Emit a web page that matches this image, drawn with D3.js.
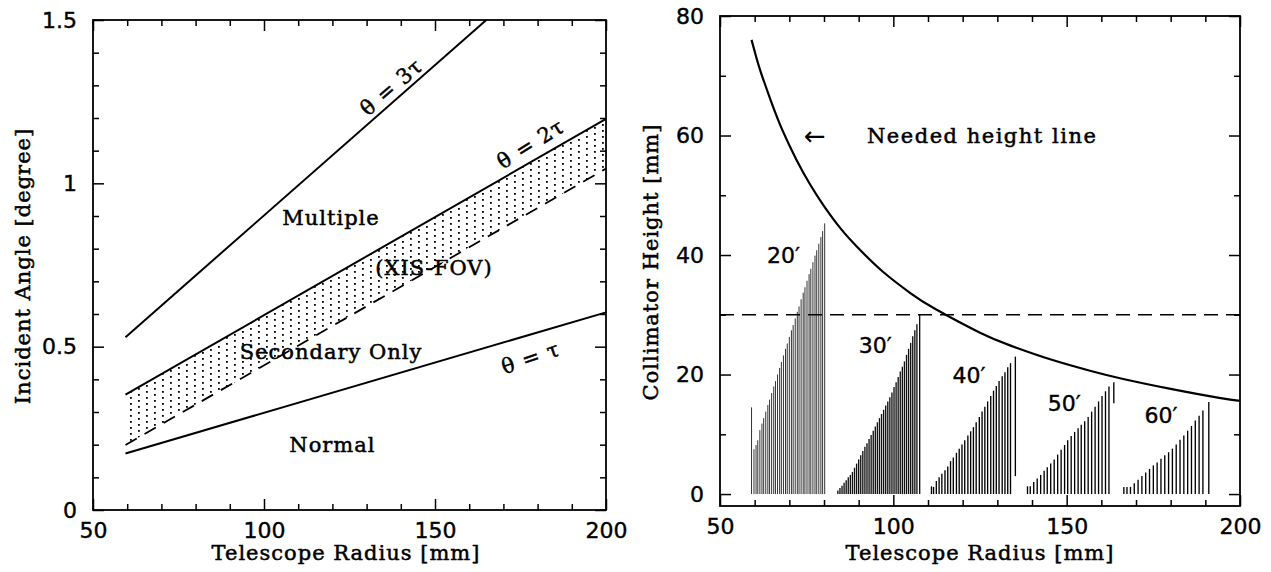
<!DOCTYPE html>
<html><head><meta charset="utf-8">
<script src="https://cdn.jsdelivr.net/npm/d3@7"></script>
<style>body{margin:0;background:#fff} svg{display:block}</style>
</head><body>
<svg id="chart" width="1271" height="572"></svg>
<script>
// ---------- data ----------
const radiusTicks = [50, 100, 150, 200];
const radiusMinor = [60, 70, 80, 90, 110, 120, 130, 140, 160, 170, 180, 190];
const angleTicks = [0, 0.5, 1, 1.5];
const angleTickLabels = ["0", "0.5", "1", "1.5"];
const angleMinor = [0.1, 0.2, 0.3, 0.4, 0.6, 0.7, 0.8, 0.9, 1.1, 1.2, 1.3, 1.4];
const heightTicks = [0, 20, 40, 60, 80];
const heightMinor = [10, 30, 50, 70];

// left panel lines (radius endpoints, angle values)
const lineRadius = [59.5, 200];
const thetaTau = [0.173, 0.605];
const theta2Tau = [0.353, 1.197];
const theta3TauRadius = [59.5, 165];
const theta3Tau = [0.529, 1.5];
const xisFovEdge = [0.199, 1.045];

// right panel: needed height line
const neededRadius = [59.1, 60.5, 62, 65, 68, 72, 76, 80, 85, 90, 97, 105, 112, 125, 134, 145, 157, 166, 180, 194, 200];
const neededHeight = [76, 73.0, 70.2, 65.3, 60.9, 56.0, 51.8, 48.2, 44.3, 41.1, 37.2, 33.6, 31.0, 27.0, 24.8, 22.6, 20.6, 19.3, 17.6, 16.1, 15.6];
const heightLimit = 30;

// collimator foils: radius positions and top heights
const foil20R = [59.1, 59.8, 60.4, 60.9, 61.5, 62.1, 62.6, 63.2, 63.8, 64.3, 64.9, 65.5, 66.0, 66.6, 67.2, 67.7, 68.3, 68.9, 69.4, 70.0, 70.6, 71.1, 71.7, 72.3, 72.8, 73.4, 74.0, 74.5, 75.1, 75.7, 76.2, 76.8, 77.4, 77.9, 78.5, 79.1, 79.6, 80.2];
const foil20H = [14.5, 7.5, 8.2, 9.0, 10.7, 11.8, 12.7, 13.8, 14.9, 15.8, 16.9, 18.0, 18.9, 20.0, 21.1, 22.1, 23.2, 24.3, 25.2, 26.3, 27.4, 28.3, 29.4, 30.5, 31.4, 32.6, 33.7, 34.6, 35.7, 36.8, 37.7, 38.8, 39.9, 40.8, 41.9, 43.0, 44.0, 45.3];
const foil30R = [84.0, 84.6, 85.2, 85.8, 86.4, 87.0, 87.6, 88.2, 88.8, 89.4, 90.0, 90.6, 91.2, 91.8, 92.4, 93.0, 93.6, 94.2, 94.8, 95.4, 96.0, 96.6, 97.2, 97.8, 98.4, 99.0, 99.6, 100.2, 100.8, 101.4, 102.0, 102.6, 103.2, 103.8, 104.4, 105.0, 105.6, 106.2, 106.8, 107.6];
const foil30H = [0.6, 1.0, 1.4, 1.9, 2.3, 2.8, 3.2, 3.7, 4.4, 5.1, 5.8, 6.5, 7.2, 7.9, 8.5, 9.2, 9.9, 10.6, 11.3, 12.0, 12.7, 13.4, 14.1, 14.8, 15.5, 16.2, 17.0, 17.9, 18.7, 19.6, 20.5, 21.3, 22.2, 23.3, 24.3, 25.3, 26.4, 27.4, 28.4, 30.0];
const foil40R = [111.0, 111.6, 112.4, 113.2, 114.0, 114.9, 115.7, 116.5, 117.3, 118.2, 119.0, 119.8, 120.6, 121.5, 122.3, 123.1, 123.9, 124.8, 125.6, 126.4, 127.2, 128.1, 128.9, 129.7, 130.5, 131.4, 132.2, 133.0, 133.8];
const foil40H = [1.3, 1.2, 2.2, 2.8, 3.4, 4.0, 4.6, 5.5, 6.1, 6.9, 7.6, 8.3, 9.0, 9.8, 10.5, 11.2, 12.0, 12.9, 13.8, 14.6, 15.5, 16.4, 17.3, 18.1, 18.9, 19.7, 20.4, 21.2, 21.9];
const foil50R = [138.7, 139.5, 140.5, 141.5, 142.5, 143.5, 144.4, 145.4, 146.4, 147.4, 148.4, 149.4, 150.3, 151.3, 152.3, 153.3, 154.2, 155.2, 156.2, 157.2, 158.2, 159.2, 160.2, 161.2, 162.2];
const foil50H = [1.3, 1.3, 2.0, 2.6, 3.2, 3.9, 4.5, 5.1, 5.8, 6.6, 7.4, 8.2, 9.0, 9.7, 10.4, 11.0, 11.6, 12.2, 12.9, 13.8, 14.6, 15.5, 16.4, 17.2, 18.0];
const foil60R = [166.5, 167.4, 168.4, 169.5, 170.6, 171.7, 172.8, 173.9, 175.0, 176.1, 177.2, 178.3, 179.4, 180.5, 181.6, 182.7, 183.8, 184.9, 186.0, 187.1, 188.2, 189.3, 191.0];
const foil60H = [1.2, 1.2, 1.2, 1.8, 2.4, 3.0, 3.6, 4.2, 4.8, 5.3, 5.9, 6.5, 7.0, 7.6, 8.3, 9.1, 9.8, 10.6, 11.4, 12.3, 13.1, 14.0, 15.4];
// floating foil segments: radius, bottom, top
const floatR = [135.2, 163.6];
const floatBottom = [3.0, 15.2];
const floatTop = [23.0, 18.7];

const foilLabels = ["20\u2032", "30\u2032", "40\u2032", "50\u2032", "60\u2032"];
const foilLabelR = [68.3, 94.8, 121.8, 149.3, 177.2];
const foilLabelH = [40, 24.9, 19.9, 15.2, 13.2];

// ---------- drawing ----------
const svg = d3.select("#chart");
const SERIF = "DejaVu Serif";
const SANS = "DejaVu Sans";

const xL = d3.scaleLinear().domain([50, 200]).range([93, 606]);
const yL = d3.scaleLinear().domain([0, 1.5]).range([510, 20]);
const xR = d3.scaleLinear().domain([50, 200]).range([720, 1240]);
const yR = d3.scaleLinear().domain([-2, 80]).range([506, 16]);

const defs = svg.append("defs");
const pat = defs.append("pattern").attr("id", "dots").attr("patternUnits", "userSpaceOnUse")
  .attr("width", 16).attr("height", 12);
[[2, 1], [2, 7], [10, 4], [10, 10]].forEach(([a, b]) =>
  pat.append("rect").attr("x", a).attr("y", b).attr("width", 1.8).attr("height", 1.8).attr("fill", "#000"));

function frame(xs, ys, yMajor, yMinor, yFmt) {
  const [xa, xb] = xs.range();
  const [ya, yb] = ys.range();
  const mk = (axis, tx, ty, size, vals, fmt, pad) => {
    const a = axis.tickValues(vals).tickSize(-size).tickPadding(pad || 3).tickFormat(fmt);
    const g = svg.append("g").attr("transform", `translate(${tx},${ty})`).call(a);
    g.select(".domain").remove();
    g.selectAll("line").attr("stroke", "#000").attr("stroke-width", 1.5);
    g.attr("font-family", SANS).attr("font-size", 22);
    g.selectAll("text").attr("fill", "#000").attr("stroke", "#000").attr("stroke-width", 0.4);
    return g;
  };
  mk(d3.axisBottom(xs), 0, ya, 11, radiusTicks, d3.format("d"), 12);
  mk(d3.axisBottom(xs), 0, ya, 6, radiusMinor, () => "");
  mk(d3.axisTop(xs), 0, yb, 11, radiusTicks, () => "");
  mk(d3.axisTop(xs), 0, yb, 6, radiusMinor, () => "");
  mk(d3.axisLeft(ys), xa, 0, 11, yMajor, yFmt, 16);
  mk(d3.axisLeft(ys), xa, 0, 6, yMinor, () => "");
  mk(d3.axisRight(ys), xb, 0, 11, yMajor, () => "");
  mk(d3.axisRight(ys), xb, 0, 6, yMinor, () => "");
  svg.append("rect").attr("x", xa).attr("y", yb).attr("width", xb - xa).attr("height", ya - yb)
    .attr("fill", "none").attr("stroke", "#000").attr("stroke-width", 1.8);
}

function serifText(x, y, txt, rot, spacing) {
  const t = svg.append("text").attr("font-family", SERIF).attr("font-size", 21)
    .attr("letter-spacing", spacing == null ? 1 : spacing).attr("text-anchor", "middle").attr("dominant-baseline", "central")
    .attr("fill", "#000").attr("stroke", "#000").attr("stroke-width", 0.5).text(txt);
  t.attr("transform", `translate(${x},${y})` + (rot ? ` rotate(${rot})` : ""));
  return t;
}

// ----- left panel -----
const idx = d3.range(lineRadius.length);
svg.append("path")
  .attr("d", d3.area().x(i => xL(lineRadius[i])).y0(i => yL(xisFovEdge[i])).y1(i => yL(theta2Tau[i]))(idx))
  .attr("fill", "url(#dots)");
const lineL = (xsArr, ysArr) => d3.line().x(i => xL(xsArr[i])).y(i => yL(ysArr[i]))(d3.range(xsArr.length));
svg.append("path").attr("d", lineL(lineRadius, thetaTau)).attr("fill", "none").attr("stroke", "#000").attr("stroke-width", 2);
svg.append("path").attr("d", lineL(lineRadius, theta2Tau)).attr("fill", "none").attr("stroke", "#000").attr("stroke-width", 2);
svg.append("path").attr("d", lineL(theta3TauRadius, theta3Tau)).attr("fill", "none").attr("stroke", "#000").attr("stroke-width", 2);
svg.append("path").attr("d", lineL(lineRadius, xisFovEdge)).attr("fill", "none").attr("stroke", "#000")
  .attr("stroke-width", 1.8).attr("stroke-dasharray", "13,9");

frame(xL, yL, angleTicks, angleMinor, d => angleTickLabels[angleTicks.indexOf(d)]);

serifText(xL(137.3), yL(1.294), "\u03B8 = 3\u03C4", -41);
serifText(xL(178), yL(1.12), "\u03B8 = 2\u03C4", -32);
serifText(xL(178), yL(0.465), "\u03B8 = \u03C4", -19);
serifText(xL(119.6), yL(0.894), "Multiple");
serifText(xL(149.7), yL(0.742), "(XIS-FOV)");
serifText(xL(119.6), yL(0.485), "Secondary Only");
serifText(xL(120), yL(0.199), "Normal");
serifText(346, 553, "Telescope Radius [mm]");
serifText(23, 266, "Incident Angle [degree]", -90);

// ----- right panel -----
function foils(rs, hs, color, width) {
  svg.append("g").selectAll("line").data(d3.range(rs.length)).join("line")
    .attr("x1", i => xR(rs[i])).attr("x2", i => xR(rs[i]))
    .attr("y1", yR(0)).attr("y2", i => yR(hs[i]))
    .attr("stroke", color).attr("stroke-width", width);
}
foils(foil20R, foil20H, "#333", 1.0);
foils(foil30R, foil30H, "#111", 1.35);
foils(foil40R, foil40H, "#000", 1.35);
foils(foil50R, foil50H, "#000", 1.35);
foils(foil60R, foil60H, "#000", 1.35);
svg.append("g").selectAll("line").data(d3.range(floatR.length)).join("line")
  .attr("x1", i => xR(floatR[i])).attr("x2", i => xR(floatR[i]))
  .attr("y1", i => yR(floatBottom[i])).attr("y2", i => yR(floatTop[i]))
  .attr("stroke", "#000").attr("stroke-width", 1.35);

svg.append("line").attr("x1", xR(50)).attr("x2", xR(200)).attr("y1", yR(heightLimit)).attr("y2", yR(heightLimit))
  .attr("stroke", "#000").attr("stroke-width", 1.6).attr("stroke-dasharray", "14,8");
svg.append("path")
  .attr("d", d3.line().curve(d3.curveNatural).x(i => xR(neededRadius[i])).y(i => yR(neededHeight[i]))(d3.range(neededRadius.length)))
  .attr("fill", "none").attr("stroke", "#000").attr("stroke-width", 2.2);

frame(xR, yR, heightTicks, heightMinor, d3.format("d"));

foilLabels.forEach((l, i) => {
  svg.append("text").attr("x", xR(foilLabelR[i])).attr("y", yR(foilLabelH[i]))
    .attr("font-family", SANS).attr("font-size", 22).attr("text-anchor", "middle").attr("dominant-baseline", "central")
    .attr("fill", "#000").attr("stroke", "#000").attr("stroke-width", 0.4).text(l);
});
svg.append("text").attr("x", xR(74.2)).attr("y", yR(60)).attr("font-family", SANS).attr("font-size", 26)
  .attr("dominant-baseline", "central").attr("fill", "#000").text("\u2190");
svg.append("text").attr("x", xR(92.4)).attr("y", yR(60)).attr("font-family", SERIF).attr("font-size", 21)
  .attr("letter-spacing", 1.5).attr("dominant-baseline", "central").attr("fill", "#000")
  .attr("stroke", "#000").attr("stroke-width", 0.5).text("Needed height line");
serifText(980, 553, "Telescope Radius [mm]");
serifText(651, 262, "Collimator Height [mm]", -90);
</script>
</body></html>
